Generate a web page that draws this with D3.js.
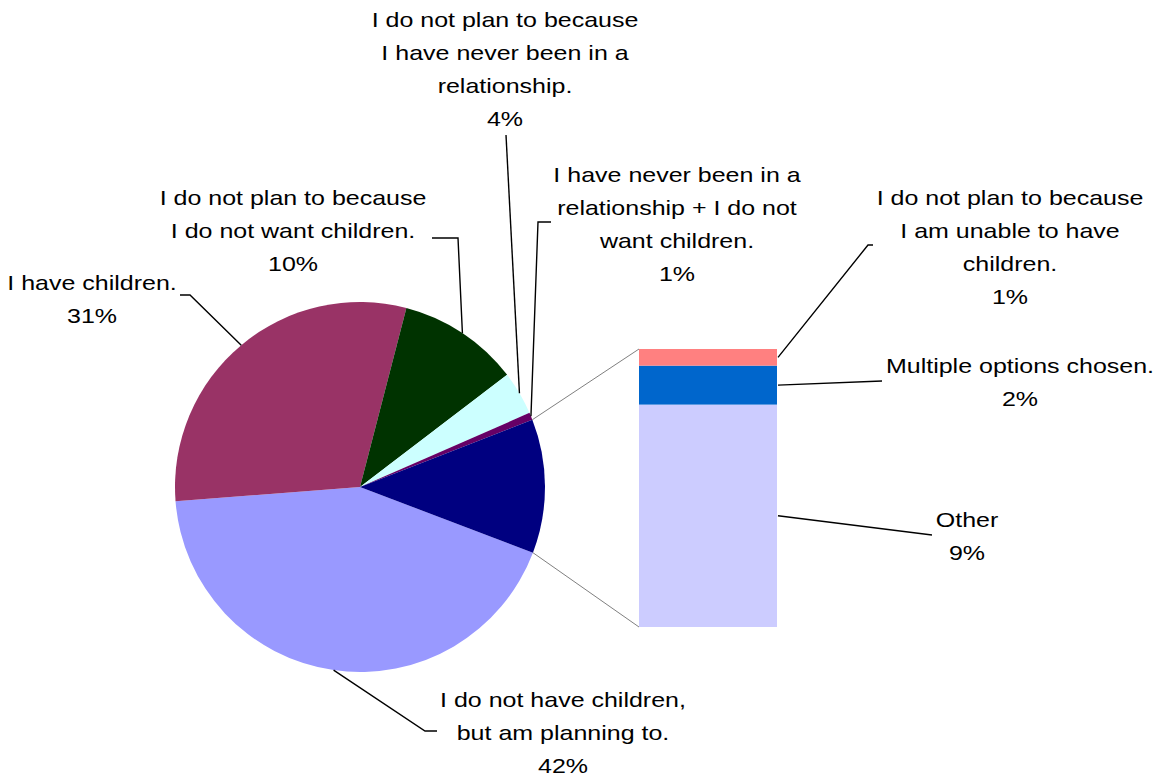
<!DOCTYPE html>
<html>
<head>
<meta charset="utf-8">
<script src="https://cdnjs.cloudflare.com/ajax/libs/d3/7.8.5/d3.min.js"></script>
<style>
    body { margin: 0; background: #fff; }
    svg { display: block; }
    text { font-family: "Liberation Sans", Arial, sans-serif; font-size: 21px; fill: #000; }
</style>
</head>
<body>
<div id="chart"></div>
<script>
// Pie slices (percent of responses), in drawing order
var pieNames = [
    'I do not have children, but am planning to.',
    'I have children.',
    'I do not plan to because I do not want children.',
    'I do not plan to because I have never been in a relationship.',
    'I have never been in a relationship + I do not want children.',
    'Other group'
];
var pieValues = [43.0, 30.25, 10.6, 3.8, 0.64];
var pieColors = ['#9999ff', '#993366', '#003300', '#ccffff', '#660066', '#000080'];

// Slices broken out into the bar (bottom to top)
var barNames = ['Other', 'Multiple options chosen.', 'I do not plan to because I am unable to have children.'];
var barValues = [9.36, 1.64, 0.70];
var barColors = ['#ccccff', '#0066cc', '#ff8080'];

// Data label texts
var pieLabels = [
    ['I do not have children,', 'but am planning to.', '42%'],
    ['I have children.', '31%'],
    ['I do not plan to because', 'I do not want children.', '10%'],
    ['I do not plan to because', 'I have never been in a', 'relationship.', '4%'],
    ['I have never been in a', 'relationship + I do not', 'want children.', '1%'],
    null
];
var barLabels = [
    ['Other', '9%'],
    ['Multiple options chosen.', '2%'],
    ['I do not plan to because', 'I am unable to have', 'children.', '1%']
];

// Layout: label centre x / first baseline y, leader start and elbow
var pieLabelPos = [
    {x: 563, y: 707, start: [437, 731], elbow: [425, 731]},
    {x: 92, y: 290, start: [180, 295], elbow: [190, 295]},
    {x: 293, y: 205, start: [432, 238], elbow: [458, 238]},
    {x: 505, y: 27, start: [506, 135], elbow: [506, 135]},
    {x: 677, y: 182, start: [551, 222], elbow: [538, 222]},
    null
];
var barLabelPos = [
    {x: 967, y: 527, start: [932, 535], elbow: [932, 535]},
    {x: 1020, y: 373, start: [882, 381], elbow: [882, 381]},
    {x: 1010, y: 205, start: [873, 245], elbow: [868, 245]}
];

var width = 1160, height = 778;
var cx = 360, cy = 487, radius = 185;
var lineHeight = 33;
var textStretch = 1.19;
var barLeft = 639, barRight = 777, barTop = 349, barBottom = 627;

var svg = d3.select('#chart')
    .append('svg')
    .attr('width', width)
    .attr('height', height);

var otherTotal = d3.sum(barValues);
var allPie = pieValues.concat([otherTotal]);

var startAngle = 110.8 * Math.PI / 180;
var pie = d3.pie()
    .sort(null)
    .startAngle(startAngle)
    .endAngle(startAngle + 2 * Math.PI);
var arcs = pie(allPie);

var arc = d3.arc().innerRadius(0).outerRadius(radius);

var pieGroup = svg.append('g')
    .attr('transform', 'translate(' + cx + ',' + cy + ')');

pieGroup.selectAll('path')
    .data(arcs)
    .enter().append('path')
    .attr('d', arc)
    .attr('fill', function(d, i) { return pieColors[i]; });

// point on the pie edge at a given angle
function edgePoint(angle) {
    return [cx + radius * Math.sin(angle), cy - radius * Math.cos(angle)];
}

// Bar of the broken-out slice
var y = d3.scaleLinear().domain([0, otherTotal]).range([barBottom, barTop]);
var stacked = [];
var acc = 0;
barValues.forEach(function(v, i) {
    stacked.push({y0: acc, y1: acc + v, i: i});
    acc += v;
});

svg.append('g').selectAll('rect')
    .data(stacked)
    .enter().append('rect')
    .attr('x', barLeft)
    .attr('width', barRight - barLeft)
    .attr('y', function(d) { return y(d.y1); })
    .attr('height', function(d) { return y(d.y0) - y(d.y1); })
    .attr('fill', function(d) { return barColors[d.i]; });

// Grey connector lines from the slice to the bar
var lastArc = arcs[arcs.length - 1];
var topPt = edgePoint(lastArc.startAngle);
var botPt = edgePoint(lastArc.endAngle);
svg.append('line')
    .attr('x1', topPt[0]).attr('y1', topPt[1])
    .attr('x2', barLeft).attr('y2', y(otherTotal))
    .attr('stroke', '#808080').attr('stroke-width', 1);
svg.append('line')
    .attr('x1', botPt[0]).attr('y1', botPt[1])
    .attr('x2', barLeft).attr('y2', y(0))
    .attr('stroke', '#808080').attr('stroke-width', 1);

var line = d3.line();

function drawLabel(lines, pos, target) {
    svg.append('path')
        .attr('d', line([pos.start, pos.elbow, target]))
        .attr('fill', 'none')
        .attr('stroke', '#000')
        .attr('stroke-width', 1.4);
    // text is a bit wider than the plain font, so stretch it horizontally
    var t = svg.append('text')
        .attr('text-anchor', 'middle')
        .attr('transform', 'translate(' + pos.x + ',' + pos.y + ') scale(' + textStretch + ',1)');
    lines.forEach(function(s, k) {
        t.append('tspan')
            .attr('x', 0)
            .attr('y', k * lineHeight)
            .text(s);
    });
}

arcs.forEach(function(a, i) {
    if (!pieLabels[i]) return;
    var mid = (a.startAngle + a.endAngle) / 2;
    drawLabel(pieLabels[i], pieLabelPos[i], edgePoint(mid));
});

stacked.forEach(function(s, i) {
    var target = [barRight + 1, y((s.y0 + s.y1) / 2)];
    drawLabel(barLabels[i], barLabelPos[i], target);
});
</script>
</body>
</html>
